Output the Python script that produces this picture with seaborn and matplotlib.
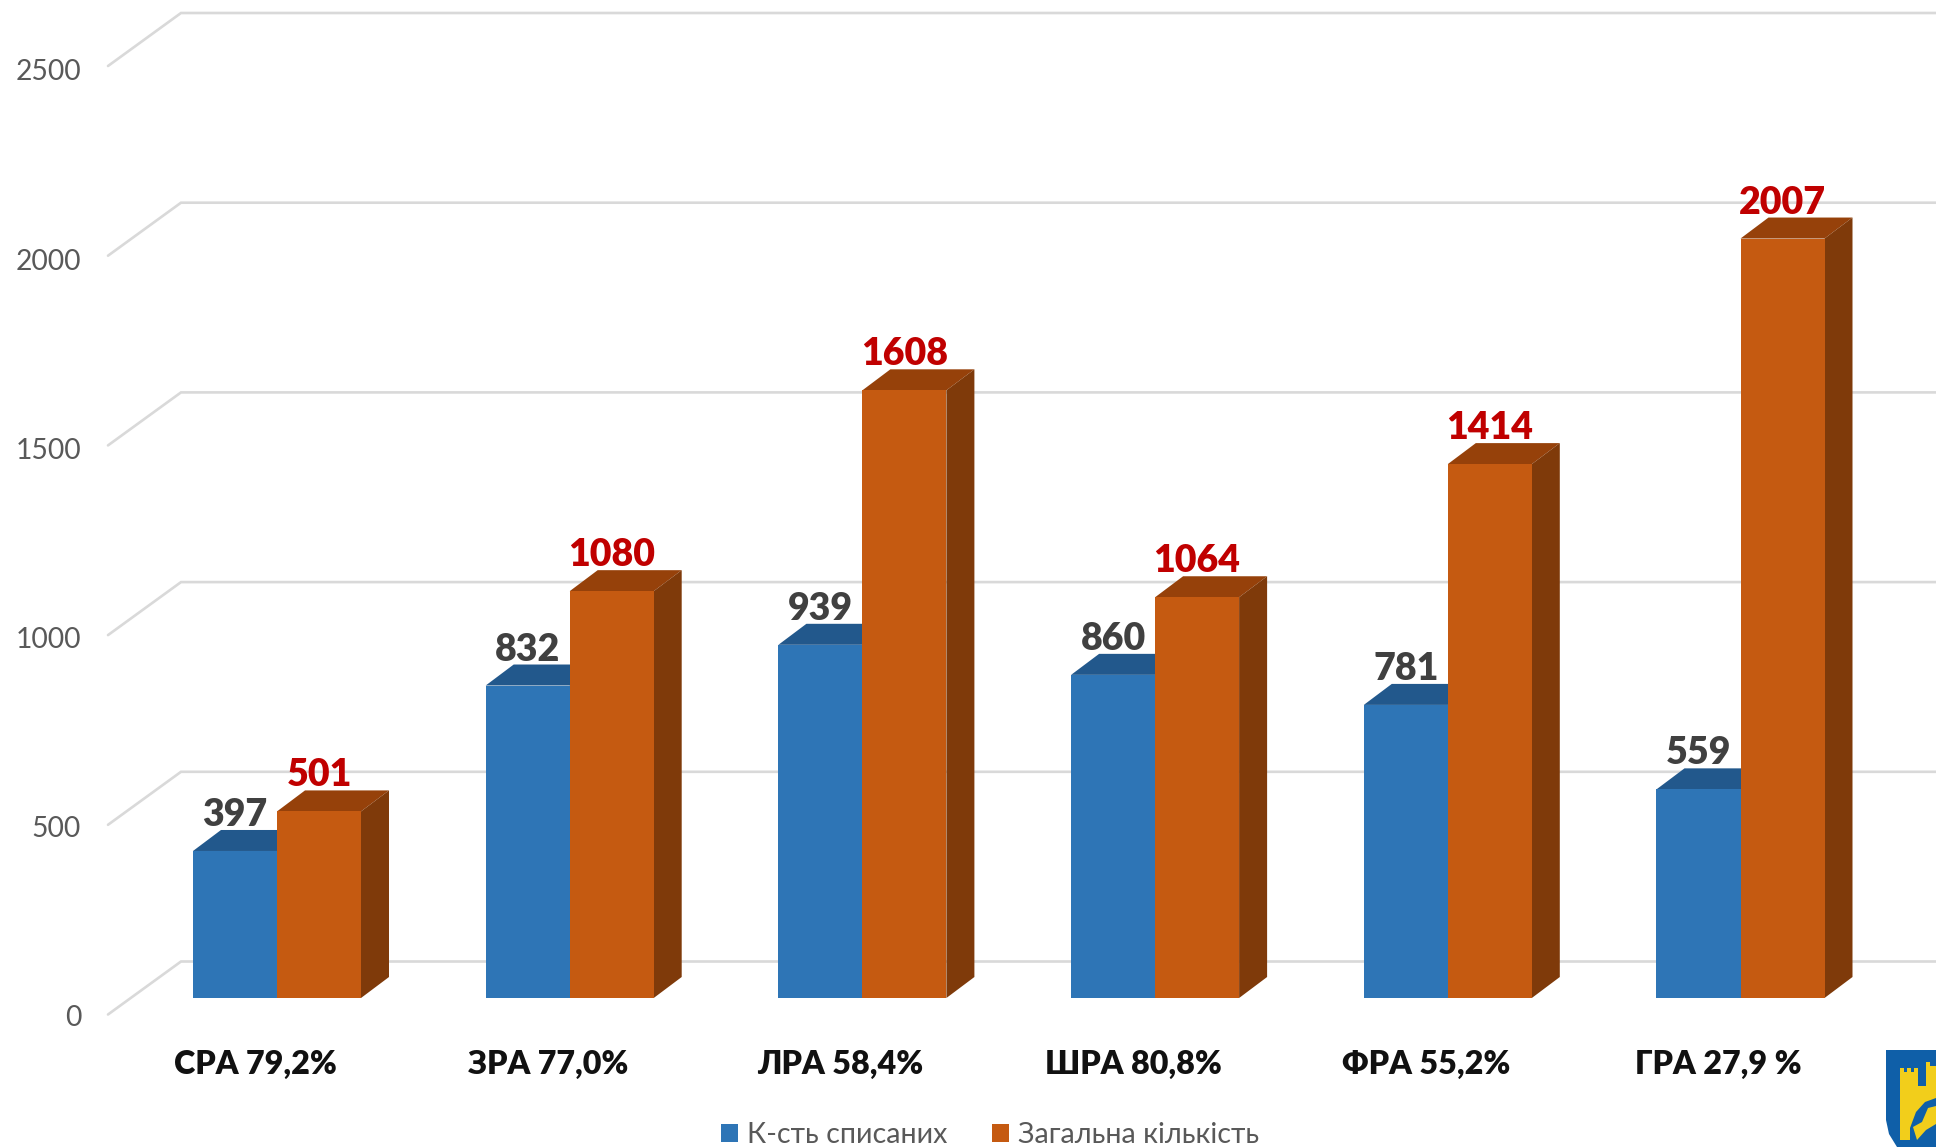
import matplotlib
matplotlib.use("Agg")
import matplotlib.pyplot as plt
import matplotlib.transforms as mtransforms
from matplotlib.patches import Polygon
import pandas as pd
import seaborn as sns

# Values
groups = ["СРА 79,2%", "ЗРА 77,0%", "ЛРА 58,4%", "ШРА 80,8%", "ФРА 55,2%", "ГРА 27,9 %"]
written_off = [397, 832, 939, 860, 781, 559]
total = [501, 1080, 1608, 1064, 1414, 2007]
series_names = ["К-сть списаних", "Загальна кількість"]
y_ticks = [0, 500, 1000, 1500, 2000, 2500]

W, H = 1936, 1147
PX_PER_UNIT = 0.3804
GRID_PX_PER_UNIT = 0.3794
LABEL_PX_PER_UNIT = 0.3785
GROUP_STEP = 292.7
ZERO_Y = 1002   # pixel row of value 0 in the bar plane
FLOOR_Y = 998   # pixel row where the bars stand
FONT = "Lato"

sns.set_theme(style="white")
plt.rcParams["font.family"] = [FONT, "Open Sans", "DejaVu Sans"]

df = pd.DataFrame({
    "group": groups * 2,
    "series": [series_names[0]] * 6 + [series_names[1]] * 6,
    "value": written_off + total,
})

fig = plt.figure(figsize=(W / 100, H / 100), dpi=100, facecolor="white")
AX_LEFT, AX_BOTTOM = 88, 1040
ax = fig.add_axes([AX_LEFT / W, (H - AX_BOTTOM) / H, (W - AX_LEFT) / W, AX_BOTTOM / H])

sns.barplot(data=df, x="group", y="value", hue="series", hue_order=series_names,
            palette=["#2E75B6", "#C55A11"], width=168 / GROUP_STEP, gap=0,
            saturation=1, linewidth=0, ax=ax, zorder=3)

ax.set_xlim((AX_LEFT - 277) / GROUP_STEP, (W - 277) / GROUP_STEP)
ax.set_ylim((ZERO_Y - AX_BOTTOM) / PX_PER_UNIT, ZERO_Y / PX_PER_UNIT)
ax.set_xlabel("")
ax.set_ylabel("")
sns.despine(ax=ax, left=True, bottom=True)
ax.patch.set_alpha(0)

# 3D look: sides and tops of the bars, offset in data units
dx = 28 / GROUP_STEP
dy = 21 / PX_PER_UNIT
floor = (ZERO_Y - FLOOR_Y) / PX_PER_UNIT
shades = [("#22588C", "#1F4E79"), ("#96410A", "#7F3A0A")]
for n, container in enumerate(ax.containers):
    top_c, side_c = shades[n]
    for bar in container:
        x0, w, h = bar.get_x(), bar.get_width(), bar.get_height()
        x1 = x0 + w
        z = 1.5 + n * 2
        ax.add_patch(Polygon([(x0, h), (x1, h), (x1 + dx, h + dy), (x0 + dx, h + dy)],
                             closed=True, fc=top_c, ec="none", zorder=z))
        ax.add_patch(Polygon([(x1, floor), (x1, h), (x1 + dx, h + dy), (x1 + dx, floor + dy)],
                             closed=True, fc=side_c, ec="none", zorder=z))
        # bars stand on the floor a little above value 0
        bar.set_y(floor)
        bar.set_height(h - floor)
        bar.set_zorder(z + 0.1)

# Floor and back wall grid
grid_left = (108 - 277) / GROUP_STEP
grid_back = (181 - 277) / GROUP_STEP
grid_right = (W - 277) / GROUP_STEP
for v in y_ticks:
    back_y = 961.5 - v * GRID_PX_PER_UNIT
    back = (ZERO_Y - back_y) / PX_PER_UNIT
    front = (ZERO_Y - back_y - 53) / PX_PER_UNIT
    ax.plot([grid_left, grid_back, grid_right], [front, back, back],
            color="#D9D9D9", lw=1.9, zorder=1, clip_on=False, solid_joinstyle="miter")

# Data labels
for n, (vals, col) in enumerate(zip([written_off, total], ["#404040", "#C00000"])):
    for bar, v in zip(ax.containers[n], vals):
        ax.annotate(str(v), (bar.get_x() + bar.get_width() / 2, v), xytext=(0, 36),
                    textcoords="offset pixels", ha="center", va="center",
                    fontsize=27, fontweight=800, color=col, zorder=10)

# Tick labels sit in the front plane, not the bar plane
ax.set_yticks(y_ticks)
ax.set_yticklabels([str(v) for v in y_ticks], fontsize=20.3, color="#595959")
ax.tick_params(axis="y", length=0, pad=5)
ax.tick_params(axis="x", length=0, pad=7)
ax.set_xticks(range(len(groups)))
ax.set_xticklabels(groups, fontsize=23.2, fontweight=800, color="#111111")
shift_x = mtransforms.Affine2D().translate(-22, 0)
for v, lab in zip(y_ticks, ax.get_yticklabels()):
    shift = 14 + v * (PX_PER_UNIT - LABEL_PX_PER_UNIT)
    lab.set_transform(lab.get_transform() + mtransforms.Affine2D().translate(0, -shift))
for lab in ax.get_xticklabels():
    lab.set_transform(lab.get_transform() + shift_x)

sns.move_legend(ax, "center", bbox_to_anchor=(990 / W, 1 - 1135 / H),
                bbox_transform=fig.transFigure, ncols=2, frameon=False, title=None,
                fontsize=20.6, labelcolor="#595959", handlelength=0.6, handleheight=0.6,
                handletextpad=0.3, columnspacing=1.55)

# City crest in the lower right corner
def px(points):
    return [(x / W, 1 - y / H) for x, y in points]

fig.add_artist(Polygon(px([(1886, 1050), (1936, 1050), (1936, 1147), (1897, 1147), (1889, 1134), (1886, 1120)]),
                       closed=True, fc="#0F5FA8", ec="none", transform=fig.transFigure))
yellow = "#F2CE1B"
for shape in [
    [(1900, 1068), (1904, 1068), (1904, 1072), (1907, 1072), (1907, 1068), (1911, 1068), (1911, 1072),
     (1914, 1072), (1914, 1068), (1918, 1068), (1918, 1086), (1926, 1086), (1926, 1062), (1930, 1062),
     (1930, 1066), (1936, 1066), (1936, 1098), (1925, 1102), (1916, 1112), (1910, 1128), (1910, 1140), (1900, 1140)],
    [(1913, 1127), (1922, 1122), (1928, 1108), (1936, 1106), (1936, 1124), (1926, 1130), (1917, 1140)],
]:
    fig.add_artist(Polygon(px(shape), closed=True, fc=yellow, ec="none", transform=fig.transFigure))

fig.savefig("out.png", dpi=100)
